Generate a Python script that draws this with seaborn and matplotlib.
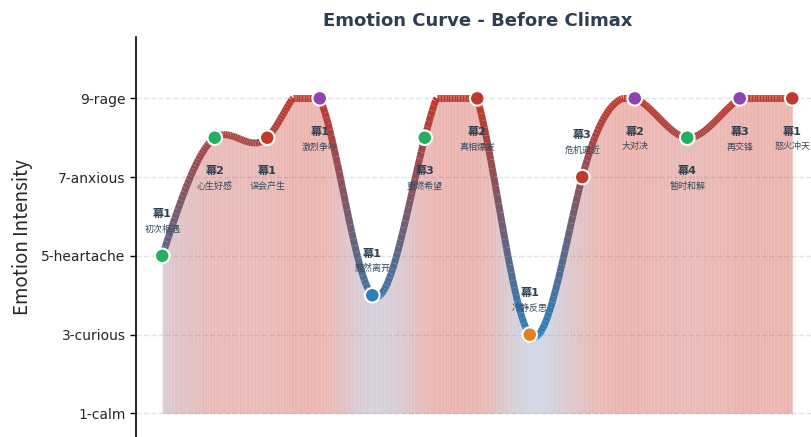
import numpy as np
import matplotlib
matplotlib.use("Agg")
import matplotlib.pyplot as plt
from matplotlib.collections import LineCollection
from matplotlib.colors import LinearSegmentedColormap, Normalize
import pandas as pd
import seaborn as sns

# 数据
scene_idx = list(range(13))
intensity = [5, 8, 8, 9, 4, 8, 9, 3, 7, 9, 8, 9, 9]
scene_tag = ["幕1", "幕2", "幕1", "幕1", "幕1", "幕3", "幕2", "幕1", "幕3", "幕2", "幕4", "幕3", "幕1"]
scene_name = ["初次相遇", "心生好感", "误会产生", "激烈争吵", "黯然离开", "重燃希望", "真相爆发",
              "冷静反思", "危机逼近", "大对决", "暂时和解", "再交锋", "怒火冲天"]
point_type = ["hope", "hope", "anger", "rage", "sad", "hope", "anger",
              "curious", "anger", "rage", "hope", "rage", "anger"]
type_colors = {"hope": "#27ae60", "anger": "#c0392b", "rage": "#8e44ad",
               "sad": "#2980b9", "curious": "#e67e22"}
ytick_vals = [1, 3, 5, 7, 9]
ytick_labels = ["1-calm", "3-curious", "5-heartache", "7-anxious", "9-rage"]


def natural_spline(x, y, xs):
    x = np.asarray(x, float)
    y = np.asarray(y, float)
    n = len(x)
    h = np.diff(x)
    A = np.zeros((n, n))
    r = np.zeros(n)
    A[0, 0] = A[-1, -1] = 1
    for i in range(1, n - 1):
        A[i, i - 1] = h[i - 1]
        A[i, i] = 2 * (h[i - 1] + h[i])
        A[i, i + 1] = h[i]
        r[i] = 3 * ((y[i + 1] - y[i]) / h[i] - (y[i] - y[i - 1]) / h[i - 1])
    c = np.linalg.solve(A, r)
    b = (y[1:] - y[:-1]) / h - h * (2 * c[:-1] + c[1:]) / 3
    d = (c[1:] - c[:-1]) / (3 * h)
    idx = np.clip(np.searchsorted(x, xs) - 1, 0, n - 2)
    dx = xs - x[idx]
    return y[idx] + b[idx] * dx + c[idx] * dx ** 2 + d[idx] * dx ** 3


sns.set_style("white")
plt.rcParams['font.family'] = ['DejaVu Sans', 'Noto Sans CJK SC']

fig = plt.figure(figsize=(8.11, 4.37), dpi=100)
ax = fig.add_axes([136 / 811, 0.0, 682.5 / 811, 0.9146])

xs = np.linspace(0, 12, 400)
ys = np.clip(natural_spline(scene_idx, intensity, xs), 1, 9)

line_cmap = LinearSegmentedColormap.from_list("emo", ["#2980b9", "#c0392b"])
fill_cmap = LinearSegmentedColormap.from_list("emo_fill", ["#8492b8", "#d13a2a"])
norm = Normalize(vmin=ys.min(), vmax=ys.max())

# 渐变填充
for i in range(len(xs) - 1):
    v = (ys[i] + ys[i + 1]) / 2
    col = fill_cmap(norm(v))
    poly = ax.fill_between(xs[i:i + 2], 1, ys[i:i + 2], facecolor=col, edgecolor=col,
                           alpha=0.33, linewidth=0.08, zorder=1)
    poly.set_snap(False)

# 渐变曲线
pts = np.column_stack([xs, ys]).reshape(-1, 1, 2)
segs = np.concatenate([pts[:-1], pts[1:]], axis=1)
lc = LineCollection(segs, cmap=line_cmap, norm=norm, linewidth=5, zorder=3)
lc.set_array((ys[:-1] + ys[1:]) / 2)
ax.add_collection(lc)

df = pd.DataFrame({"scene": scene_idx, "intensity": intensity, "type": point_type})
sns.scatterplot(data=df, x="scene", y="intensity", hue="type", palette=type_colors,
                s=110, edgecolor="white", linewidth=1.5, legend=False, zorder=5, ax=ax)

for i in range(len(scene_idx)):
    if intensity[i] >= 7.5:
        off1, off2 = -24, -35
    else:
        off1, off2 = 30, 19
    ax.annotate(scene_tag[i], (scene_idx[i], intensity[i]), xytext=(0, off1),
                textcoords="offset points", ha="center", va="center",
                fontsize=8, fontweight="bold", color="#2c3e50", zorder=6)
    ax.annotate(scene_name[i], (scene_idx[i], intensity[i]), xytext=(0, off2),
                textcoords="offset points", ha="center", va="center",
                fontsize=6.5, color="#34495e", zorder=6)

ax.set_xlim(-0.5, 12.5)
ax.set_ylim(0.4, 10.55)
ax.set_yticks(ytick_vals)
ax.set_yticklabels(ytick_labels, fontsize=10)
ax.set_xticks([])
ax.set_xlabel("")
ax.set_ylabel("Emotion Intensity", fontsize=13.5, family=['Noto Sans CJK SC', 'DejaVu Sans'], labelpad=6)
ax.tick_params(axis="y", left=True, length=4, width=1, color="black")
ax.yaxis.grid(True, linestyle="--", color="#e3e3e3", linewidth=1, zorder=0)
ax.set_axisbelow(True)
for s in ["top", "right", "bottom"]:
    ax.spines[s].set_visible(False)
ax.spines["left"].set_color("black")
ax.spines["left"].set_linewidth(1.2)

fig.text((136 + 682.5 / 2) / 811, 1 - 21 / 437, "Emotion Curve - Before Climax",
         ha="center", va="center", fontsize=13, fontweight="bold", color="#2c3e50")

fig.savefig("out.png", dpi=100)
